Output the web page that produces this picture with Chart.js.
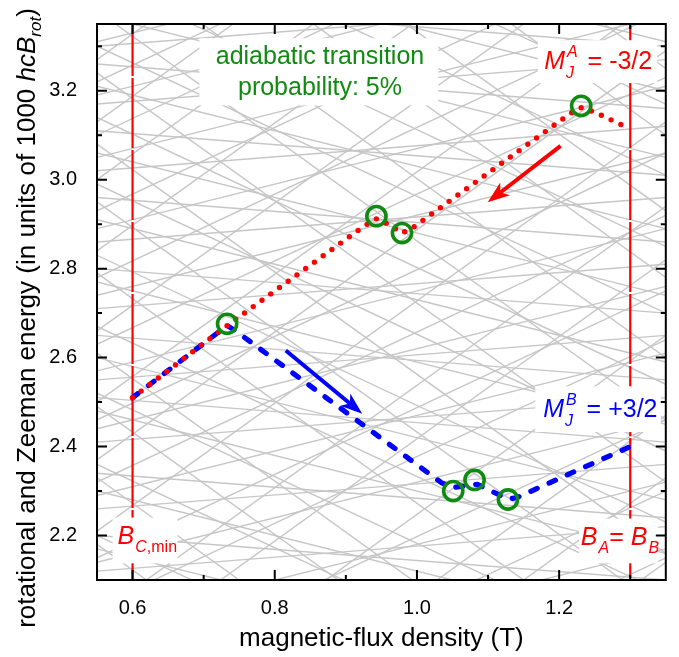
<!DOCTYPE html>
<html><head><meta charset="utf-8">
<script src="https://cdn.jsdelivr.net/npm/chart.js@4/dist/chart.umd.min.js"></script>
<style>html,body{margin:0;padding:0;background:#fff}canvas{display:block}</style>
</head><body>
<canvas id="c" width="679" height="657"></canvas>
<script>
// ---------- data ----------
const xRange = [0.55, 1.35];
const yRange = [2.10, 3.35];
const xTicks = [0.6, 0.8, 1.0, 1.2];
const xMinorTicks = [0.7, 0.9, 1.1, 1.3];
const yTicks = [2.2, 2.4, 2.6, 2.8, 3.0, 3.2];
const yMinorTicks = [2.3, 2.5, 2.7, 2.9, 3.1, 3.3];

// background energy levels: y at x = 0.55 and y at x = 1.35
const grayLeftY = [
  1.22,1.41,1.55,1.73,1.90,2.02,2.21,2.37,2.50,2.66,2.84,3.00,3.13,3.27,
  2.18,2.33,2.49,2.61,2.79,2.95,3.08,3.24,3.38,3.52,3.70,3.85,4.02,4.17,
  1.55,1.70,1.86,2.04,2.15,2.32,2.46,2.63,2.78,2.93,3.10,3.22,
  2.20,2.36,2.52,2.67,2.83,2.99,3.14,3.30,3.45,3.61,3.77,
  1.85,2.00,2.14,2.29,2.44,2.57,2.74,2.89,3.05,3.19,3.31,
  2.17,2.30,2.48,2.60,2.77,2.91,3.06,3.21,3.37,3.52,3.63,
  2.12,2.26,2.41,2.55,2.71,2.86,3.02,3.17,3.30,
  2.20,2.34,2.51,2.65,2.80,2.96,3.11,3.26,3.40
];
const grayRightY = [
  2.14,2.33,2.47,2.65,2.82,2.94,3.13,3.29,3.42,3.58,3.76,3.92,4.05,4.19,
  1.26,1.41,1.57,1.69,1.87,2.03,2.16,2.32,2.46,2.60,2.78,2.93,3.10,3.25,
  2.15,2.30,2.46,2.64,2.75,2.92,3.06,3.23,3.38,3.53,3.70,3.82,
  1.60,1.76,1.92,2.07,2.23,2.39,2.54,2.70,2.85,3.01,3.17,
  2.17,2.32,2.46,2.61,2.76,2.89,3.06,3.21,3.37,3.51,3.63,
  1.85,1.98,2.16,2.28,2.45,2.59,2.74,2.89,3.05,3.20,3.31,
  2.22,2.36,2.51,2.65,2.81,2.96,3.12,3.27,3.40,
  2.10,2.24,2.41,2.55,2.70,2.86,3.01,3.16,3.30
];

// M_J^A = -3/2 path (red, dotted)
const redPathX = [0.60, 0.733, 0.925, 0.943, 0.960, 0.979, 0.995, 1.215, 1.231, 1.250, 1.30];
const redPathY = [2.51, 2.672, 2.895, 2.912, 2.900, 2.880, 2.893, 3.148, 3.162, 3.152, 3.114];
// M_J^B = +3/2 path (blue, dashed)
const bluePathX = [0.60, 0.733, 0.745, 1.035, 1.052, 1.068, 1.085, 1.128, 1.14, 1.30];
const bluePathY = [2.51, 2.672, 2.660, 2.318, 2.308, 2.312, 2.315, 2.282, 2.285, 2.40];
// avoided crossings (green circles)
const circleX = [0.733, 0.943, 0.979, 1.231, 1.051, 1.081, 1.128];
const circleY = [2.676, 2.918, 2.880, 3.166, 2.300, 2.325, 2.281];
// field markers
const markerLinesX = [0.6, 1.3];
// arrows [x1, y1, x2(tip), y2(tip)]
const redArrow = [1.202, 3.076, 1.0995, 2.949];
const blueArrow = [0.8155, 2.616, 0.923, 2.474];

// ---------- styles ----------
const FONT = '"Liberation Sans", Arial, sans-serif';
const RED = '#ff0000', BLUE = '#0000ff', GREEN = '#108a10', GRAY = '#c6c6c6';

const datasets = [];
datasets.push({data: circleX.map((x,i)=>({x, y: circleY[i]})), showLine:false,
  pointRadius:9.6, pointHoverRadius:9.6, pointBorderWidth:3.6, pointBorderColor:GREEN,
  pointBackgroundColor:'rgba(0,0,0,0)', order:0});
datasets.push({data: redPathX.map((x,i)=>({x, y: redPathY[i]})), showLine:true, tension:0,
  borderColor:RED, borderWidth:5.4, borderDash:[0,10.8], borderCapStyle:'round', pointRadius:0, order:1});
datasets.push({data: bluePathX.map((x,i)=>({x, y: bluePathY[i]})), showLine:true, tension:0,
  borderColor:BLUE, borderWidth:5.2, borderDash:[7,13], borderCapStyle:'round', pointRadius:0, order:2});
markerLinesX.forEach(x => datasets.push({data:[{x, y:yRange[0]},{x, y:yRange[1]}], showLine:true,
  borderColor:RED, borderWidth:2.2, borderDash:[70,2], pointRadius:0, order:3}));
grayLeftY.forEach((l,i) => datasets.push({data:[{x:xRange[0], y:l},{x:xRange[1], y:grayRightY[i]}],
  showLine:true, borderColor:GRAY, borderWidth:1.4, pointRadius:0, order:10}));

function drawArrow(ctx, x1, y1, x2, y2, color){
  const dx = x2-x1, dy = y2-y1, L = Math.hypot(dx,dy), ux = dx/L, uy = dy/L, nx = -uy, ny = ux;
  const hl = 22, hw = 8;
  ctx.save();
  ctx.strokeStyle = color; ctx.fillStyle = color; ctx.lineWidth = 4; ctx.lineCap = 'butt';
  ctx.beginPath(); ctx.moveTo(x1,y1); ctx.lineTo(x2-ux*14, y2-uy*14); ctx.stroke();
  ctx.beginPath();
  ctx.moveTo(x2,y2);
  ctx.lineTo(x2-ux*hl+nx*hw, y2-uy*hl+ny*hw);
  ctx.lineTo(x2-ux*(hl-6), y2-uy*(hl-6));
  ctx.lineTo(x2-ux*hl-nx*hw, y2-uy*hl-ny*hw);
  ctx.closePath(); ctx.fill();
  ctx.restore();
}

function whiteBox(ctx, px, py, x1, y1, x2, y2){
  ctx.fillStyle = '#fff';
  const a = px(x1), b = py(y1), c = px(x2), d = py(y2);
  ctx.fillRect(Math.min(a,c), Math.min(b,d), Math.abs(c-a), Math.abs(d-b));
}

const overlay = {
  id:'overlay',
  afterDatasetsDraw(chart){
    const {ctx, scales:{x, y}} = chart;
    const px = v => x.getPixelForValue(v), py = v => y.getPixelForValue(v);
    ctx.save();
    drawArrow(ctx, px(redArrow[0]), py(redArrow[1]), px(redArrow[2]), py(redArrow[3]), RED);
    drawArrow(ctx, px(blueArrow[0]), py(blueArrow[1]), px(blueArrow[2]), py(blueArrow[3]), BLUE);

    ctx.textBaseline = 'alphabetic';
    // adiabatic transition label
    whiteBox(ctx, px, py, 0.694, 3.318, 1.030, 3.167);
    ctx.fillStyle = GREEN; ctx.font = '25px ' + FONT; ctx.textAlign = 'center';
    ctx.fillText('adiabatic transition', px(0.8636), py(3.259));
    ctx.fillText('probability: 5%', px(0.8636), py(3.191));
    ctx.textAlign = 'left';

    // M_J^A = -3/2
    whiteBox(ctx, px, py, 1.170, 3.3135, 1.338, 3.2173);
    let x0 = px(1.1789), b = py(3.2495), w;
    ctx.fillStyle = RED;
    ctx.font = 'italic 25px ' + FONT; ctx.fillText('M', x0, b); w = ctx.measureText('M').width;
    ctx.font = 'italic 16px ' + FONT; ctx.fillText('J', x0+w+1, b+9); ctx.fillText('A', x0+w+2, b-12);
    w += 2 + Math.max(ctx.measureText('J').width, ctx.measureText('A').width);
    ctx.font = '25px ' + FONT; ctx.fillText(' = -3/2', x0+w+3, b);

    // M_J^B = +3/2
    whiteBox(ctx, px, py, 1.1664, 2.5354, 1.3430, 2.4327);
    x0 = px(1.1775); b = py(2.4661);
    ctx.fillStyle = BLUE;
    ctx.font = 'italic 25px ' + FONT; ctx.fillText('M', x0, b); w = ctx.measureText('M').width;
    ctx.font = 'italic 16px ' + FONT; ctx.fillText('J', x0+w+1, b+9); ctx.fillText('B', x0+w+2, b-12);
    w += 2 + Math.max(ctx.measureText('J').width, ctx.measureText('B').width);
    ctx.font = '25px ' + FONT; ctx.fillText(' = +3/2', x0+w+3, b);

    // B_C,min
    whiteBox(ctx, px, py, 0.572, 2.2403, 0.6631, 2.1375);
    x0 = px(0.579); b = py(2.1819);
    ctx.fillStyle = RED;
    ctx.font = 'italic 25px ' + FONT; ctx.fillText('B', x0, b); w = ctx.measureText('B').width;
    ctx.font = 'italic 16px ' + FONT; ctx.fillText('C', x0+w+1, b+8); let w2 = ctx.measureText('C').width;
    ctx.font = '16px ' + FONT; ctx.fillText(',min', x0+w+1+w2, b+8);

    // B_A = B_B
    whiteBox(ctx, px, py, 1.2281, 2.2381, 1.3389, 2.1375);
    x0 = px(1.2305); b = py(2.1797);
    ctx.fillStyle = RED;
    ctx.font = 'italic 25px ' + FONT; ctx.fillText('B', x0, b); w = ctx.measureText('B').width;
    ctx.font = 'italic 16px ' + FONT; ctx.fillText('A', x0+w+1, b+8); w += 1 + ctx.measureText('A').width;
    ctx.font = '25px ' + FONT; ctx.fillText('= ', x0+w, b); w += ctx.measureText('= ').width;
    ctx.font = 'italic 25px ' + FONT; ctx.fillText('B', x0+w, b); w += ctx.measureText('B').width;
    ctx.font = 'italic 16px ' + FONT; ctx.fillText('B', x0+w+1, b+8);
    ctx.restore();
  },
  afterDraw(chart){
    const {ctx, chartArea:a, scales:{x, y}} = chart;
    ctx.save();
    ctx.strokeStyle = '#000'; ctx.lineWidth = 2;
    ctx.strokeRect(a.left, a.top, a.right-a.left, a.bottom-a.top);
    ctx.beginPath();
    const tx = (v, len) => { const p = x.getPixelForValue(v);
      ctx.moveTo(p, a.bottom); ctx.lineTo(p, a.bottom-len); ctx.moveTo(p, a.top); ctx.lineTo(p, a.top+len); };
    const ty = (v, len) => { const p = y.getPixelForValue(v);
      ctx.moveTo(a.left, p); ctx.lineTo(a.left+len, p); ctx.moveTo(a.right, p); ctx.lineTo(a.right-len, p); };
    xTicks.forEach(v => tx(v, 10)); xMinorTicks.forEach(v => tx(v, 5));
    yTicks.forEach(v => ty(v, 10)); yMinorTicks.forEach(v => ty(v, 5));
    ctx.stroke();

    // y-axis title with italic / subscript parts
    const parts = [
      {t:'rotational and Zeeman energy (in units of 1000 ', f:'26px ' + FONT, dy:0},
      {t:'hcB', f:'italic 26px ' + FONT, dy:0},
      {t:'rot', f:'italic 17px ' + FONT, dy:6},
      {t:')', f:'26px ' + FONT, dy:0}
    ];
    let total = 0;
    parts.forEach(p => { ctx.font = p.f; p.w = ctx.measureText(p.t).width; total += p.w; });
    ctx.translate(35, 318); ctx.rotate(-Math.PI/2);
    ctx.fillStyle = '#000'; ctx.textBaseline = 'alphabetic'; ctx.textAlign = 'left';
    let cx = -total/2;
    parts.forEach(p => { ctx.font = p.f; ctx.fillText(p.t, cx, p.dy); cx += p.w; });
    ctx.restore();
  }
};

new Chart(document.getElementById('c'), {
  type: 'scatter',
  data: { datasets },
  options: {
    responsive: false, animation: false, devicePixelRatio: 1,
    layout: { padding: { left: 0, right: 11, top: 8, bottom: 0 } },
    plugins: { legend: { display: false }, tooltip: { enabled: false } },
    scales: {
      x: {
        type: 'linear', min: xRange[0], max: xRange[1],
        grid: { display: false }, border: { display: false },
        afterBuildTicks: s => { s.ticks = xTicks.map(v => ({ value: v })); },
        afterFit: s => { s.height = 77; },
        ticks: { color: '#000', font: { size: 20, family: FONT }, padding: 8,
                 callback: v => v.toFixed(1) },
        title: { display: true, text: 'magnetic-flux density (T)', color: '#000',
                 font: { size: 26, family: FONT }, padding: { top: 0, bottom: 3 } }
      },
      y: {
        type: 'linear', min: yRange[0], max: yRange[1],
        grid: { display: false }, border: { display: false },
        afterBuildTicks: s => { s.ticks = yTicks.map(v => ({ value: v })); },
        afterFit: s => { s.width = 97; },
        ticks: { color: '#000', font: { size: 20, family: FONT }, padding: 12,
                 callback: v => v.toFixed(1) },
        title: { display: false }
      }
    }
  },
  plugins: [overlay]
});
</script>
</body></html>
